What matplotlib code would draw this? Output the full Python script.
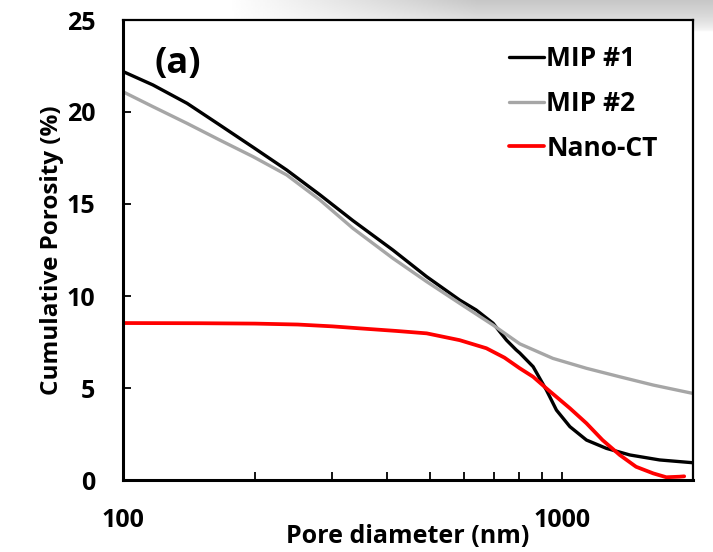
import numpy as np
import matplotlib
matplotlib.use('Agg')
import matplotlib.pyplot as plt
from matplotlib.ticker import FixedLocator, NullFormatter

plt.rcParams['font.family'] = ['Open Sans', 'DejaVu Sans']
plt.rcParams['font.weight'] = 'bold'

# 데이터
mip1_d = [100, 117, 140, 166, 198, 236, 281, 334, 412, 492, 585, 638, 697, 748, 787, 802,
          860, 922, 972, 1043, 1138, 1263, 1429, 1670, 1985]
mip1_p = [22.2, 21.47, 20.47, 19.3, 18.08, 16.85, 15.5, 14.1, 12.5, 11.05, 9.78, 9.24, 8.52, 7.6, 7.07, 6.9,
          6.16, 4.89, 3.8, 2.9, 2.17, 1.72, 1.36, 1.09, 0.94]

mip2_d = [100, 117, 140, 166, 198, 236, 281, 334, 412, 492, 585, 697, 760, 802, 954,
          1138, 1355, 1615, 1985]
mip2_p = [21.1, 20.29, 19.38, 18.48, 17.57, 16.58, 15.22, 13.68, 12.05, 10.78, 9.6, 8.42, 7.79, 7.4, 6.61,
          6.07, 5.61, 5.16, 4.71]

ct_d = [100, 150, 200, 250, 300, 347, 420, 492, 585, 673, 740, 802, 860, 922, 1043, 1138, 1238,
        1355, 1476, 1615, 1730, 1855, 1900]
ct_p = [8.53, 8.52, 8.5, 8.45, 8.35, 8.24, 8.1, 7.97, 7.6, 7.16, 6.65, 6.07, 5.61, 4.98, 3.9, 3.08, 2.17,
        1.36, 0.72, 0.36, 0.15, 0.18, 0.2]

series_names = ['MIP #1', 'MIP #2', 'Nano-CT']
series_colors = ['#000000', '#a6a6a6', '#ff0000']

y_ticks = [0, 5, 10, 15, 20, 25]
x_major = [100, 1000]
x_minor = [200, 300, 400, 500, 600, 700, 800, 900, 2000]

fig = plt.figure(figsize=(7.13, 5.52), dpi=100)

# 상단 회색 그라데이션 (스크린샷 배경)
bg = fig.add_axes([0, 0, 1, 1], zorder=-5)
gx = np.clip((np.linspace(0, 1, 300) - 0.32) / 0.35, 0, 1)
gy = np.clip(1 - np.linspace(0, 1, 60), 0, 1) ** 0.6
grad = 1 - 0.22 * np.outer(gy, gx)
bg.imshow(grad, cmap='gray', vmin=0, vmax=1, extent=[0, 1, 1 - 32 / 552, 1], aspect='auto')
bg.set_xlim(0, 1)
bg.set_ylim(0, 1)
bg.axis('off')

ax = fig.add_axes([123 / 713, 72 / 552, 570 / 713, 460 / 552])
ax.set_facecolor('white')

for d, p, name, c in zip([mip1_d, mip2_d, ct_d], [mip1_p, mip2_p, ct_p], series_names, series_colors):
    ax.plot(d, p, color=c, lw=2.4 if c != '#ff0000' else 2.7, label=name,
            solid_capstyle='round', solid_joinstyle='round')

ax.set_xscale('log')
ax.set_xlim(100, 1990)
ax.set_ylim(0, 25)

ax.xaxis.set_major_locator(FixedLocator(x_major))
ax.xaxis.set_minor_locator(FixedLocator(x_minor))
ax.xaxis.set_minor_formatter(NullFormatter())
ax.set_xticklabels([str(v) for v in x_major])
ax.set_yticks(y_ticks)

ax.tick_params(axis='x', which='both', direction='in', length=6, width=1.3, pad=20, labelsize=18)
ax.tick_params(axis='y', which='both', direction='in', length=6, width=1.3, pad=20, labelsize=18)
ax.tick_params(top=False, right=False)

for s in ['left', 'bottom']:
    ax.spines[s].set_linewidth(2.2)
for s in ['top', 'right']:
    ax.spines[s].set_linewidth(1.6)

ax.set_xlabel('Pore diameter (nm)', fontsize=18, fontweight='bold', labelpad=-6)
ax.set_ylabel('Cumulative Porosity (%)', fontsize=17.5, fontweight='bold', labelpad=2)

ax.text(0.055, 0.905, '(a)', transform=ax.transAxes, fontsize=26, fontweight='bold', va='center', ha='left')

ax.legend(loc='upper left', bbox_to_anchor=(0.678, 0.946), frameon=False, fontsize=19,
          handlelength=1.3, handletextpad=0.1, borderpad=0, borderaxespad=0, labelspacing=0.68)

plt.savefig('out.png', dpi=100)
